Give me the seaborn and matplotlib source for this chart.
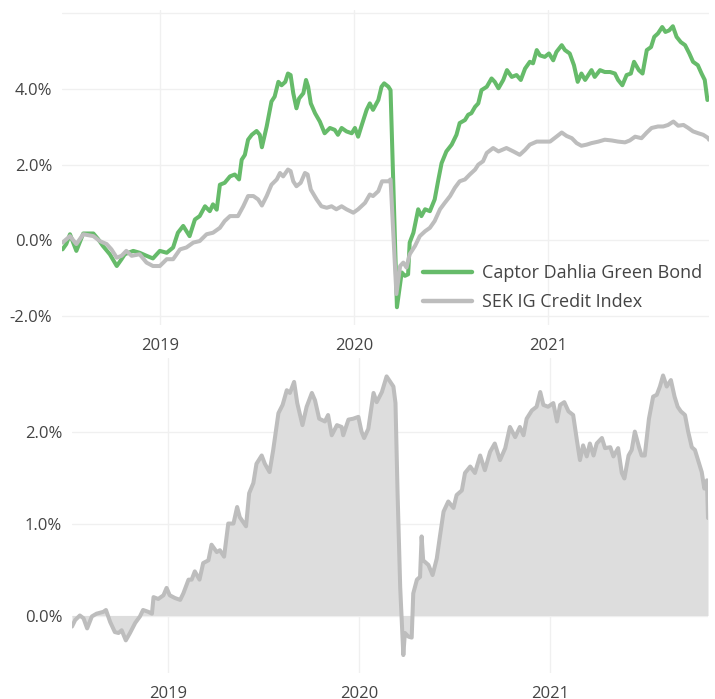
import pandas as pd
import seaborn as sns
import matplotlib.pyplot as plt
import matplotlib.dates as mdates
from matplotlib.ticker import FuncFormatter

# Data (days counted from 2019-01-01, values in %)
start = pd.Timestamp('2019-01-01')

fund_days = [-183, -176, -169, -157, -144, -125, -116, -107, -94, -81,
             -72, -66, -50, -38, -25, -13, 0, 13, 25, 34,
             44, 56, 66, 75, 85, 94, 100, 107, 113, 122,
             132, 141, 149, 154, 160, 166, 173, 182, 188, 192,
             201, 210, 216, 223, 229, 236, 241, 246, 251, 257,
             262, 270, 275, 279, 284, 292, 301, 310, 320, 329,
             335, 342, 351, 361, 367, 373, 379, 389, 395, 401,
             411, 417, 422, 430, 434, 446, 455, 461, 467, 470,
             477, 486, 492, 499, 508, 517, 524, 530, 539, 549,
             558, 564, 574, 580, 586, 593, 599, 605, 615, 624,
             630, 637, 646, 653, 662, 671, 679, 687, 696, 702,
             709, 715, 724, 732, 740, 746, 756, 762, 771, 779,
             786, 793, 800, 806, 812, 818, 828, 837, 847, 856,
             862, 870, 878, 886, 892, 901, 908, 916, 924, 930,
             937, 945, 951, 958, 965, 972, 980, 988, 996, 1003,
             1012, 1019, 1025, 1030, 1033]
fund_vals = [-0.24, -0.10, 0.16, -0.28, 0.18, 0.18, 0.03, -0.15, -0.37, -0.68,
             -0.50, -0.37, -0.28, -0.33, -0.41, -0.48, -0.28, -0.33, -0.19, 0.20,
             0.38, 0.11, 0.55, 0.64, 0.90, 0.77, 0.95, 0.81, 1.47, 1.52,
             1.69, 1.74, 1.61, 2.13, 2.26, 2.66, 2.79, 2.89, 2.79, 2.46,
             3.01, 3.67, 3.80, 4.19, 4.10, 4.19, 4.41, 4.37, 3.89, 3.49,
             3.75, 3.89, 4.24, 4.06, 3.62, 3.36, 3.14, 2.83, 2.97, 2.92,
             2.79, 2.97, 2.88, 2.83, 2.97, 2.74, 3.01, 3.45, 3.62, 3.45,
             3.71, 4.06, 4.15, 4.06, 3.97, -1.77, -0.85, -0.94, -0.90, -0.06,
             0.20, 0.82, 0.64, 0.82, 0.77, 1.08, 1.61, 2.04, 2.35, 2.53,
             2.79, 3.10, 3.18, 3.32, 3.36, 3.53, 3.62, 3.97, 4.06, 4.28,
             4.19, 4.02, 4.24, 4.50, 4.32, 4.37, 4.24, 4.54, 4.72, 4.68,
             5.03, 4.89, 4.85, 4.94, 4.76, 4.98, 5.16, 5.03, 4.94, 4.63,
             4.19, 4.41, 4.24, 4.37, 4.50, 4.32, 4.50, 4.45, 4.45, 4.41,
             4.24, 4.10, 4.37, 4.41, 4.72, 4.50, 4.41, 5.03, 5.11, 5.38,
             5.47, 5.64, 5.51, 5.55, 5.66, 5.38, 5.24, 5.16, 4.94, 4.72,
             4.63, 4.41, 4.24, 3.71, 3.75]

index_days = [-183, -169, -157, -144, -125, -113, -100, -91, -81, -72,
              -63, -53, -38, -25, -13, 0, 13, 25, 38, 50,
              63, 75, 88, 100, 113, 122, 132, 147, 157, 166,
              176, 185, 192, 201, 210, 220, 226, 232, 241, 246,
              251, 257, 265, 273, 278, 284, 295, 304, 314, 323,
              332, 342, 351, 364, 373, 386, 395, 401, 411, 418,
              430, 434, 445, 452, 458, 464, 470, 480, 489, 499,
              508, 517, 527, 536, 546, 555, 564, 574, 583, 593,
              599, 608, 615, 627, 637, 652, 665, 677, 687, 696,
              709, 721, 734, 746, 756, 765, 775, 784, 793, 803,
              812, 825, 837, 850, 862, 875, 884, 894, 906, 916,
              925, 937, 947, 956, 966, 975, 985, 994, 1003, 1013,
              1022, 1032, 1033]
index_vals = [-0.06, 0.11, -0.10, 0.16, 0.11, -0.02, -0.10, -0.24, -0.46, -0.41,
              -0.28, -0.41, -0.37, -0.59, -0.68, -0.68, -0.50, -0.50, -0.24, -0.19,
              -0.06, -0.02, 0.16, 0.20, 0.33, 0.51, 0.64, 0.64, 0.90, 1.17,
              1.17, 1.08, 0.92, 1.17, 1.47, 1.61, 1.78, 1.69, 1.87, 1.83,
              1.56, 1.43, 1.52, 1.78, 1.74, 1.34, 1.08, 0.90, 0.86, 0.90,
              0.82, 0.90, 0.82, 0.73, 0.82, 0.99, 1.21, 1.17, 1.30, 1.56,
              1.56, 1.61, -1.42, -0.68, -0.59, -0.72, -0.37, -0.15, 0.11, 0.24,
              0.33, 0.51, 0.82, 0.99, 1.17, 1.39, 1.56, 1.61, 1.74, 1.87,
              2.00, 2.09, 2.31, 2.44, 2.35, 2.44, 2.35, 2.26, 2.39, 2.53,
              2.61, 2.61, 2.61, 2.74, 2.85, 2.76, 2.70, 2.57, 2.50, 2.53,
              2.57, 2.61, 2.66, 2.64, 2.61, 2.59, 2.64, 2.74, 2.70, 2.85,
              2.97, 3.01, 3.01, 3.05, 3.14, 3.03, 3.05, 2.97, 2.88, 2.83,
              2.79, 2.70, 2.66]

diff_days = [-184, -178, -169, -162, -155, -146, -137, -124, -119, -111,
             -102, -95, -89, -81, -73, -63, -54, -48, -38, -31,
             -28, -19, -9, -3, 3, 13, 23, 29, 39, 45,
             51, 60, 67, 77, 83, 93, 99, 107, 115, 125,
             132, 137, 149, 155, 163, 169, 179, 185, 194, 201,
             211, 219, 227, 233, 241, 247, 257, 265, 275, 281,
             289, 300, 306, 313, 323, 332, 335, 345, 354, 364,
             370, 375, 383, 393, 399, 409, 418, 425, 431, 435,
             439, 444, 450, 453, 460, 466, 469, 476, 482, 485,
             488, 498, 506, 514, 520, 527, 536, 546, 552, 562,
             568, 578, 587, 597, 606, 616, 625, 635, 645, 654,
             664, 673, 680, 686, 696, 705, 712, 718, 727, 737,
             744, 750, 758, 766, 775, 782, 788, 794, 801, 807,
             814, 820, 830, 836, 846, 852, 861, 868, 873, 881,
             887, 893, 901, 906, 912, 920, 928, 935, 941, 947,
             954, 962, 969, 975, 981, 989, 995, 1002, 1008, 1014,
             1021, 1026, 1031, 1033]
diff_vals = [-0.12, -0.05, 0.00, -0.03, -0.14, -0.01, 0.02, 0.04, 0.06, -0.07,
             -0.18, -0.19, -0.16, -0.27, -0.19, -0.08, -0.01, 0.06, 0.04, 0.02,
             0.20, 0.18, 0.22, 0.30, 0.22, 0.19, 0.17, 0.24, 0.39, 0.39,
             0.48, 0.39, 0.57, 0.60, 0.77, 0.69, 0.71, 0.64, 1.00, 1.00,
             1.18, 1.07, 0.97, 1.33, 1.44, 1.65, 1.74, 1.65, 1.56, 1.80,
             2.20, 2.29, 2.45, 2.42, 2.54, 2.31, 2.07, 2.27, 2.42, 2.34,
             2.14, 2.11, 2.18, 1.96, 2.07, 2.05, 1.96, 2.13, 2.14, 2.16,
             2.00, 1.93, 2.03, 2.42, 2.32, 2.43, 2.60, 2.54, 2.49, 2.31,
             1.33, 0.31, -0.43, -0.19, -0.23, -0.24, 0.24, 0.39, 0.42, 0.86,
             0.60, 0.55, 0.44, 0.62, 0.86, 1.13, 1.24, 1.17, 1.31, 1.36,
             1.55, 1.62, 1.55, 1.74, 1.58, 1.78, 1.87, 1.69, 1.82, 2.05,
             1.94, 2.05, 1.96, 2.14, 2.23, 2.27, 2.43, 2.29, 2.27, 2.31,
             2.11, 2.29, 2.32, 2.22, 2.18, 1.91, 1.69, 1.85, 1.73, 1.87,
             1.74, 1.87, 1.93, 1.82, 1.83, 1.73, 1.82, 1.55, 1.49, 1.74,
             1.80, 2.00, 1.83, 1.74, 1.74, 2.14, 2.38, 2.40, 2.49, 2.61,
             2.49, 2.56, 2.38, 2.27, 2.22, 2.18, 2.00, 1.83, 1.80, 1.69,
             1.56, 1.38, 1.47, 1.06]

series_names = ['Captor Dahlia Green Bond', 'SEK IG Credit Index']
colors = {'Captor Dahlia Green Bond': '#66bb6a', 'SEK IG Credit Index': '#bdbdbd'}


def to_dates(days):
    return start + pd.to_timedelta(days, unit='D')


df_top = pd.concat([
    pd.DataFrame({'date': to_dates(fund_days), 'value': fund_vals, 'series': series_names[0]}),
    pd.DataFrame({'date': to_dates(index_days), 'value': index_vals, 'series': series_names[1]}),
])
df_diff = pd.DataFrame({'date': to_dates(diff_days), 'value': diff_vals})

sns.set_style('white')
plt.rcParams['font.family'] = ['Open Sans', 'DejaVu Sans']
text_col = '#444444'
grid_col = '#f0f0f0'
lw = 2.9

fig = plt.figure(figsize=(7.15, 6.99), dpi=100)
ax1 = fig.add_axes([62 / 715, 1 - 325 / 699, 647 / 715, 315 / 699])
ax2 = fig.add_axes([72 / 715, 1 - 673 / 699, 636 / 715, 315 / 699])

# top: cumulative returns
sns.lineplot(data=df_top, x='date', y='value', hue='series', hue_order=series_names,
             palette=colors, linewidth=lw, estimator=None, ax=ax1)
ax1.set_ylim(-2.24, 6.09)
ax1.set_yticks([-2, 0, 2, 4, 6])
ax1.yaxis.set_major_formatter(FuncFormatter(lambda v, p: '' if v > 5 else f'{v:.1f}%'))

leg = ax1.legend(loc='lower right', bbox_to_anchor=(0.99, 0.045), frameon=False,
                 fontsize=13, handlelength=2.7, labelspacing=0.6,
                 borderpad=0, borderaxespad=0, handletextpad=0.6)
for t in leg.get_texts():
    t.set_color(text_col)
for h in leg.get_lines():
    h.set_linewidth(3.2)

# bottom: relative return
ax2.fill_between(df_diff['date'], 0, df_diff['value'], color='#dddddd', lw=0)
sns.lineplot(data=df_diff, x='date', y='value', color='#bdbdbd', linewidth=lw,
             estimator=None, ax=ax2)
ax2.set_ylim(-0.625, 2.8)
ax2.set_yticks([0, 1, 2])
ax2.yaxis.set_major_formatter(FuncFormatter(lambda v, p: f'{v:.1f}%'))

for ax in [ax1, ax2]:
    ax.set_xlim(to_dates([-184])[0], to_dates([1033])[0])
    ax.xaxis.set_major_locator(mdates.YearLocator())
    ax.xaxis.set_major_formatter(mdates.DateFormatter('%Y'))
    ax.set_xlabel('')
    ax.set_ylabel('')
    ax.grid(True, color=grid_col, lw=1)
    ax.set_axisbelow(True)
    for s in ax.spines.values():
        s.set_visible(False)
    ax.tick_params(axis='y', length=0, pad=7, labelsize=12, labelcolor=text_col)
    ax.tick_params(axis='x', length=0, pad=9, labelsize=12, labelcolor=text_col)

fig.savefig('out.png', dpi=100)
